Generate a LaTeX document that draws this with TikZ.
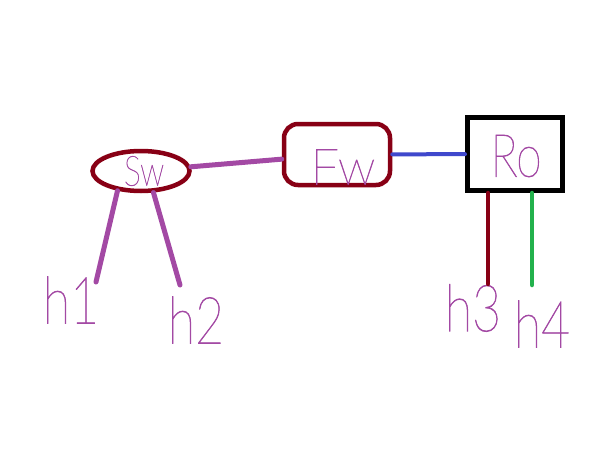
\documentclass[tikz,border=0pt]{standalone}
\usepackage{fontspec}
\usepackage{graphicx}
\newfontfamily\handfont{Lato Hairline}[RawFeature={embolden=1.2}]
\definecolor{darkred}{HTML}{880015}
\definecolor{pen}{HTML}{A349A4}
\definecolor{penblue}{HTML}{3F48CC}
\definecolor{pengreen}{HTML}{22B14C}
\newcommand{\tall}[1]{\scalebox{1}[1.3]{#1}}
\usetikzlibrary{shapes.geometric}

\begin{document}
\begin{tikzpicture}[x=1pt,y=-1pt,
    device/.style={draw=darkred, line width=4.5pt, inner sep=0pt},
    lbl/.style={text=pen, inner sep=0pt, font=\handfont\fontsize{50}{50}\selectfont},
    link/.style={line width=5pt, line cap=round}]
    \fill[white] (0,0) rectangle (596,468);
    \useasboundingbox (0,0) rectangle (596,468);
    \node[device, ellipse, minimum width=97pt, minimum height=40pt] (sw) at (141,171) {};
    \node[lbl, font=\handfont\fontsize{32}{32}\selectfont] at (144,171) {\tall{Sw}};
    \node[device, rounded corners=14pt, minimum width=106pt, minimum height=61pt] (fw) at (337,154.5) {};
    \node[lbl] at (343,167) {Fw};
    \node[draw=black, line width=5pt, minimum width=95pt, minimum height=73pt] (ro) at (515,154) {};
    \node[lbl, font=\handfont\fontsize{46}{46}\selectfont] at (516,156) {\tall{Ro}};
    \node[lbl] (h1) at (71,300) {\tall{h1}};
    \node[lbl] (h2) at (196,320) {\tall{h2}};
    \node[lbl] (h3) at (473,308) {\tall{h3}};
    \node[lbl] (h4) at (542,324) {\tall{h4}};
    \coordinate (h1top) at (96,282);
    \coordinate (h2top) at (180,285);
    \coordinate (h3top) at (488,284);
    \coordinate (h4top) at (532,285);
    \draw[link, pen] (sw) -- (fw);
    \draw[link, penblue, line width=4pt] (fw) -- (ro);
    \draw[link, pen] (sw.220) -- (h1top);
    \draw[link, pen] (sw.300) -- (h2top);
    \draw[link, darkred, line width=4.5pt] (h3top |- ro.south) -- (h3top);
    \draw[link, pengreen, line width=4.5pt] (h4top |- ro.south) -- (h4top);
\end{tikzpicture}
\end{document}
